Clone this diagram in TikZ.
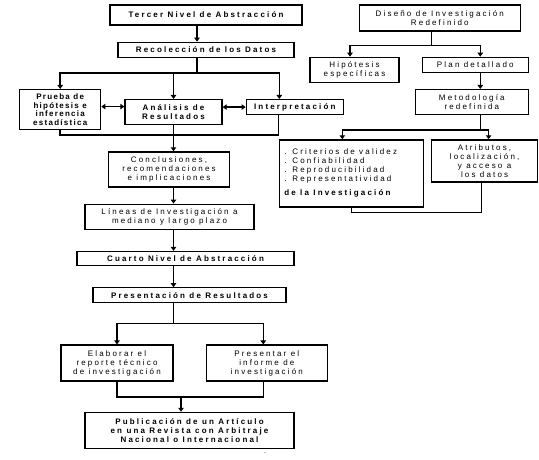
\documentclass[tikz,border=0pt]{standalone}
\usepackage{fontspec}
\setmainfont{Liberation Sans}[LetterSpace=27]
\usepackage{tikz}
\usetikzlibrary{positioning, arrows.meta, calc}

\begin{document}
\begin{tikzpicture}[
    x=1pt, y=-1pt,
    font=\fontsize{8}{9}\selectfont,
    >={Triangle[length=4pt, width=5.5pt]},
    plainbox/.style={draw, line width=1.3pt, align=center, inner sep=1pt},
    boldbox/.style={plainbox, font=\fontsize{8}{9}\selectfont\bfseries},
    dims/.style 2 args={minimum width=#1, minimum height=#2},
    link/.style={line width=1.6pt},
    arr/.style={link, ->},
    darr/.style={link, <->}
  ]
    \useasboundingbox (0,0) rectangle (539,459);
    % left column
    \node[boldbox, dims={192pt}{20pt}] (tercer) at (206,15) {Tercer Nivel de Abstracción};
    \node[boldbox, dims={176pt}{15pt}, below=16pt of tercer] (recol) {Recolección de los Datos};
    \node[boldbox, dims={97pt}{25pt}, below=41pt of recol, xshift=-32.5pt] (analisis) {Análisis de\\Resultados};
    \node[boldbox, dims={81pt}{40pt}, font=\fontsize{8}{8.6}\selectfont\bfseries\addfontfeature{LetterSpace=16},
        left=23pt of analisis, yshift=2.5pt] (prueba) {Prueba de\\hipótesis e\\inferencia\\estadística};
    \node[boldbox, dims={97pt}{15pt}, right=23pt of analisis, yshift=5pt] (interp) {Interpretación};
    \node[plainbox, dims={121pt}{35pt}, below=26pt of analisis, xshift=-4.5pt] (concl) {Conclusiones,\\recomendaciones\\e implicaciones};
    \node[plainbox, dims={169pt}{25pt}, below=16pt of concl, xshift=0.5pt] (lineas) {Líneas de Investigación a\\mediano y largo plazo};
    \node[boldbox, dims={217pt}{14pt}, below=21pt of lineas, xshift=16pt] (cuarto) {Cuarto Nivel de Abstracción};
    \node[boldbox, dims={193pt}{15pt}, below=21pt of cuarto, xshift=4pt] (present) {Presentación de Resultados};
    \node[plainbox, dims={112pt}{36pt}, below=41pt of present, xshift=-72.5pt] (elabora) {Elaborar el\\reporte técnico\\de investigación};
    \node[plainbox, dims={121pt}{36pt}, right=32pt of elabora] (informe) {Presentar el\\informe de\\investigación};
    \node[boldbox, dims={209pt}{36pt}, below=30pt of elabora, xshift=72.5pt] (public) {Publicación de un Artículo\\en una Revista con Arbitraje\\Nacional o Internacional};
    % right column
    \node[plainbox, dims={161pt}{26pt}, right=56pt of tercer, yshift=-3pt] (diseno) {Diseño de Investigación\\Redefinido};
    \node[plainbox, dims={106pt}{15pt}, below=25pt of diseno, xshift=35.5pt] (plan) {Plan detallado};
    \node[plainbox, dims={89pt}{25pt}, left=22pt of plan, yshift=-5pt] (hipot) {Hipótesis\\específicas};
    \node[plainbox, dims={113pt}{25pt}, below=16pt of plan, xshift=-3.5pt] (metodo) {Metodología\\redefinida};
    \node[plainbox, dims={144pt}{67pt}, text width=134pt, align=flush left, inner xsep=5pt, inner ysep=5pt, below=24pt of metodo, xshift=-120.5pt] (criter)
        {\spaceskip=0pt\relax . Criterios de validez\\. Confiabilidad\\. Reproducibilidad\\. Representatividad\\[5pt]\textbf{de la Investigación}};
    \node[plainbox, dims={106pt}{42pt}, right=7pt of criter, yshift=12.5pt] (atrib) {Atributos,\\localización,\\y acceso a\\los datos};
    \node[font=\tiny] (marca) at (265,454) {-};

    % connectors, left
    \draw[arr] ([xshift=-9pt]tercer.south) -- ([xshift=-9pt]tercer.south |- recol.north);
    \draw[link] ([xshift=-9pt]recol.south) -- ++(0pt,-15pt) coordinate (recj);
    \draw[arr] (recj) -| (prueba.north);
    \draw[arr] (recj) -| ([xshift=-15.5pt]interp.north);
    \draw[arr] (recj -| analisis.north) -- (analisis.north);
    \draw[darr] ([yshift=3pt]prueba.east) -- ([yshift=3pt]prueba.east -| analisis.west);
    \draw[darr] (analisis.east |- interp.west) -- (interp.west);
    \draw[link] (prueba.south) -- ++(0pt,-5pt) -| ([xshift=-16.5pt]interp.south);
    \coordinate (axis) at (analisis.south);
    \draw[arr] (axis) -- (axis |- concl.north);
    \draw[arr] (axis |- concl.south) -- (axis |- lineas.north);
    \draw[arr] (axis |- lineas.south) -- (axis |- cuarto.north);
    \draw[arr] (axis |- cuarto.south) -- (axis |- present.north);
    \draw[link] (axis |- present.south) -- ++(0pt,-20pt) coordinate (presj);
    \draw[arr] (presj) -| (elabora.north);
    \draw[arr] (presj) -| ([xshift=-3.5pt]informe.north);
    \draw[link] (elabora.south) -- ++(0pt,-15pt) coordinate (elabj) -| ([xshift=-3.5pt]informe.south);
    \draw[arr] ([xshift=64pt]elabj) -- ([xshift=64pt]elabj |- public.north);

    % connectors, right
    \draw[link] ([xshift=-8.5pt]diseno.south) -- ++(0pt,-14pt) coordinate (disj);
    \draw[arr] (disj) -| ([xshift=-4.5pt]hipot.north);
    \draw[arr] (disj) -| ([xshift=5pt]plan.north);
    \draw[arr] ([xshift=5pt]plan.south) -- ([xshift=5pt]plan.south |- metodo.north);
    \draw[link] ([xshift=8.5pt]metodo.south) -- ++(0pt,-15pt) coordinate (metj);
    \draw[arr] (metj) -| ([xshift=-9pt]criter.north);
    \draw[arr] (metj) -| ([xshift=4pt]atrib.north);
    \draw[link] ([xshift=-3pt]atrib.south) |- ([yshift=-5pt]criter.south) -- (criter.south);
\end{tikzpicture}
\end{document}
